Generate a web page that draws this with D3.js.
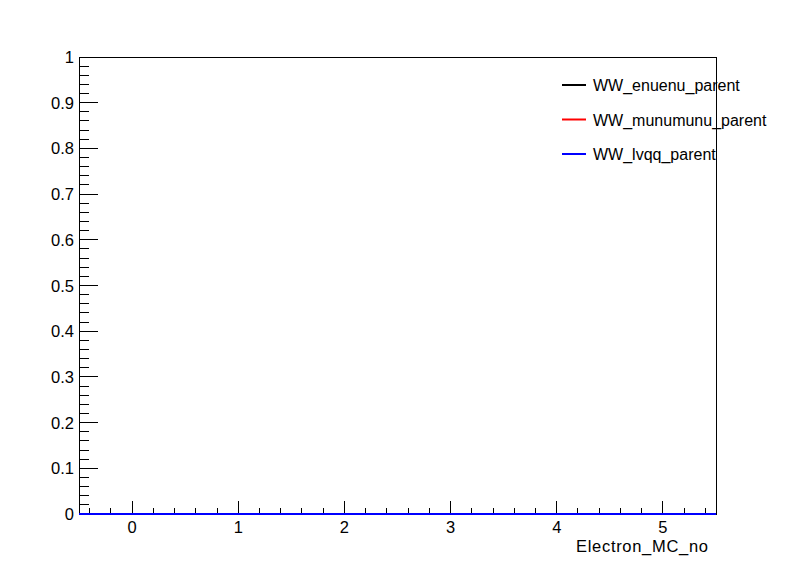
<!DOCTYPE html>
<html>
<head>
<meta charset="utf-8">
<script src="https://cdn.jsdelivr.net/npm/d3@7"></script>
<style>
  body { margin: 0; background: #fff; }
  svg { display: block; font-family: 'Liberation Sans', Arial, sans-serif; }
</style>
</head>
<body>
<svg id="chart"></svg>
<script>
// bin centres of Electron_MC_no (integer-centred bins)
let binCenters = [0, 1, 2, 3, 4, 5]
let enuenuCounts = [0, 0, 0, 0, 0, 0]
let munumunuCounts = [0, 0, 0, 0, 0, 0]
let lvqqCounts = [0, 0, 0, 0, 0, 0]
let seriesNames = ['WW_enuenu_parent', 'WW_munumunu_parent', 'WW_lvqq_parent']
let seriesColors = ['#000000', '#ff0000', '#0000ff']
let xTicks = [0, 1, 2, 3, 4, 5]
let yTicks = [0, 0.1, 0.2, 0.3, 0.4, 0.5, 0.6, 0.7, 0.8, 0.9, 1]

let width = 796
let height = 572
let frame = {left: 79, right: 716, top: 57, bottom: 514}

let svg = d3.select('#chart').attr('width', width).attr('height', height)

let x = d3.scaleLinear().domain([-0.5, 5.5]).range([frame.left, frame.right])
let y = d3.scaleLinear().domain([0, 1]).range([frame.bottom, frame.top])

// frame
svg.append('rect')
  .attr('x', frame.left).attr('y', frame.top)
  .attr('width', frame.right - frame.left)
  .attr('height', frame.bottom - frame.top)
  .attr('fill', 'none').attr('stroke', 'black').attr('stroke-width', 1)
  .attr('shape-rendering', 'crispEdges')

// x axis ticks: major every 1, minor every 0.2
let xMinor = d3.range(-0.4, 5.5, 0.2).map(v => Math.round(v * 10) / 10)
let gx = svg.append('g').attr('shape-rendering', 'crispEdges')
xMinor.forEach(function (v) {
  let major = xTicks.indexOf(v) >= 0
  gx.append('line')
    .attr('x1', x(v)).attr('x2', x(v))
    .attr('y1', frame.bottom).attr('y2', frame.bottom - (major ? 13 : 6.5))
    .attr('stroke', 'black')
})
xTicks.forEach(function (v) {
  svg.append('text')
    .attr('x', x(v)).attr('y', 533)
    .attr('text-anchor', 'middle')
    .attr('font-size', 16.5)
    .text(v)
})

// y axis ticks: major every 0.1, minor every 0.02
let yMinor = d3.range(0, 51).map(i => i / 50)
let gy = svg.append('g').attr('shape-rendering', 'crispEdges')
yMinor.forEach(function (v, i) {
  let major = i % 5 === 0
  gy.append('line')
    .attr('x1', frame.left).attr('x2', frame.left + (major ? 19 : 10))
    .attr('y1', y(v)).attr('y2', y(v))
    .attr('stroke', 'black')
})
yTicks.forEach(function (v) {
  svg.append('text')
    .attr('x', 74).attr('y', y(v) + 6)
    .attr('text-anchor', 'end')
    .attr('font-size', 16.5)
    .text(v)
})

// axis title
svg.append('text')
  .attr('x', 708).attr('y', 552)
  .attr('text-anchor', 'end')
  .attr('font-size', 16.5)
  .attr('textLength', 132)
  .text('Electron_MC_no')

// histograms as steps
let allCounts = [enuenuCounts, munumunuCounts, lvqqCounts]
let step = d3.line().x(d => x(d[0])).y(d => y(d[1]))
allCounts.forEach(function (counts, s) {
  let pts = []
  binCenters.forEach(function (c, i) {
    pts.push([c - 0.5, counts[i]])
    pts.push([c + 0.5, counts[i]])
  })
  svg.append('path')
    .attr('d', step(pts))
    .attr('fill', 'none')
    .attr('stroke', seriesColors[s])
    .attr('stroke-width', 2)
})

// legend
seriesNames.forEach(function (name, i) {
  let ly = 85 + i * 34.5
  svg.append('line')
    .attr('x1', 562).attr('x2', 586)
    .attr('y1', ly).attr('y2', ly)
    .attr('stroke', seriesColors[i]).attr('stroke-width', 2)
  svg.append('text')
    .attr('x', 593).attr('y', ly + 6)
    .attr('font-size', 16)
    .text(name)
})
</script>
</body>
</html>
